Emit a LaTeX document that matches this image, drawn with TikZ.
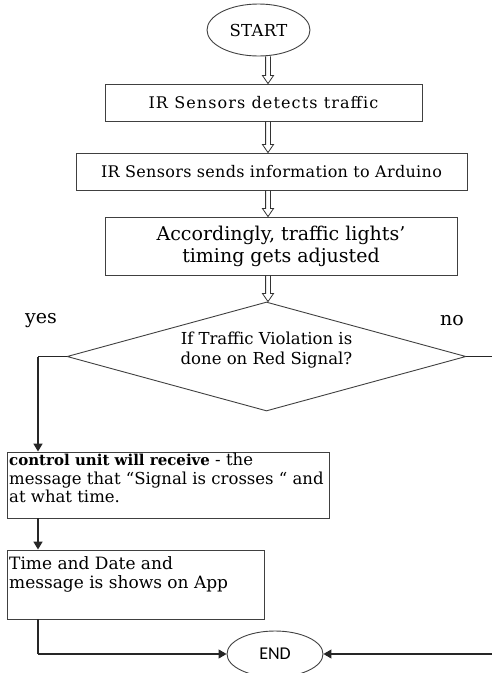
\documentclass[tikz,border=0pt]{standalone}
\usepackage{fontspec}
\setmainfont{DejaVu Serif}
\newfontfamily\endfont{Carlito}
\newfontfamily\wideA[LetterSpace=7]{DejaVu Serif}
\newfontfamily\wideB[LetterSpace=2]{DejaVu Serif}
\usetikzlibrary{shapes.geometric,arrows.meta,calc}
\tikzset{
  box/.style={draw=black!75, line width=0.9pt, inner sep=0pt},
  hollow/.style={draw=black!80, line width=0.8pt, line join=miter,
    to path={($(\tikztostart)+(-2.4,0)$) -- ($(\tikztotarget)+(-2.4,-8)$) -- ($(\tikztotarget)+(-5.5,-8)$)
      -- (\tikztotarget) -- ($(\tikztotarget)+(5.5,-8)$) -- ($(\tikztotarget)+(2.4,-8)$) -- ($(\tikztostart)+(2.4,0)$)}},
  flow/.style={draw=black!85, line width=1.1pt, -{Triangle[width=9pt, length=8pt]}},
  plain/.style={draw=black!85, line width=1.1pt},
}
\begin{document}
\begin{tikzpicture}[x=1pt, y=-1pt]
\useasboundingbox (0,0) rectangle (492,673);
% START
\node[ellipse, draw=black!75, line width=0.9pt, minimum width=103pt, minimum height=52pt, inner sep=0pt,
      font=\wideB\fontsize{16.5}{18}\selectfont] (start) at (258.5,30) {START};
% boxes
\node[box, minimum width=317pt, minimum height=37pt, font=\wideA\fontsize{16}{19}\selectfont] (b1) at (263.5,102.5) {IR Sensors detects traffic};
\node[box, minimum width=391pt, minimum height=37pt, font=\wideB\fontsize{16}{19}\selectfont] (b2) at (271.5,171.5) {IR Sensors sends information to Arduino};
\node[box, minimum width=352pt, minimum height=58pt, align=center,
      font=\fontsize{19}{22}\selectfont] (b3) at (281,246) {Accordingly, traffic lights'\\timing gets adjusted};
% decision
\node[diamond, draw=black!75, line width=0.9pt, minimum width=399pt, minimum height=109pt, inner sep=0pt] (dec) at (266.5,356.5) {};
\node[align=center, font=\fontsize{16.5}{20}\selectfont, inner sep=0pt] (dect) at (266.5,350) {If Traffic Violation is\\done on Red Signal?};
\node[font=\fontsize{19}{21}\selectfont, inner sep=0pt] (yes) at (41,321) {yes};
\node[font=\fontsize{19}{21}\selectfont, inner sep=0pt] (no) at (452,321) {no};
% control unit box
\node[box, minimum width=322pt, minimum height=66pt] (b4) at (168,485) {};
\node[anchor=north west, align=left, inner sep=0pt, font=\fontsize{16.5}{18.5}\selectfont] (b4t) at (9,453)
  {{\fontsize{15}{18.5}\selectfont\textbf{control unit will receive}} - the\\message that “Signal is crosses “ and\\at what time.};
% app box
\node[box, minimum width=257pt, minimum height=69pt] (b5) at (135.5,584.5) {};
\node[anchor=north west, align=left, inner sep=0pt, font=\fontsize{17}{19.5}\selectfont] (b5t) at (9,556)
  {Time and Date and\\message is shows on App};
% END
\node[ellipse, draw=black!75, line width=0.9pt, minimum width=96pt, minimum height=46pt, inner sep=0pt,
      font=\endfont\fontsize{18}{20}\selectfont] (end) at (275,654) {END};
% helper coordinates
\coordinate (yl) at (38,356.5);
\coordinate (nr) at (492,356.5);
\coordinate (er) at (492,654);
\coordinate (bl) at (38,654);
% connectors
\draw[hollow] (start.south -| 268,0) to (b1.north -| 268,0);
\draw[hollow] (b1.south -| 268,0) to (b2.north -| 268,0);
\draw[hollow] (b2.south -| 268,0) to (b3.north -| 268,0);
\draw[hollow] (b3.south -| 268,0) to (dec.north -| 268,0);
\draw[plain, line width=0.8pt] (dec.west) -- (yl);
\draw[flow, line width=1.6pt] (yl) -- (b4.north -| yl);
\draw[plain, line width=0.8pt] (dec.east) -- (nr);
\draw[flow, line width=1.6pt] (b4.south -| yl) -- (b5.north -| yl);
\draw[plain] (b5.south -| yl) -- (bl);
\draw[flow] (bl) -- (end.west);
\draw[flow] (er) -- (end.east);
\end{tikzpicture}
\end{document}
